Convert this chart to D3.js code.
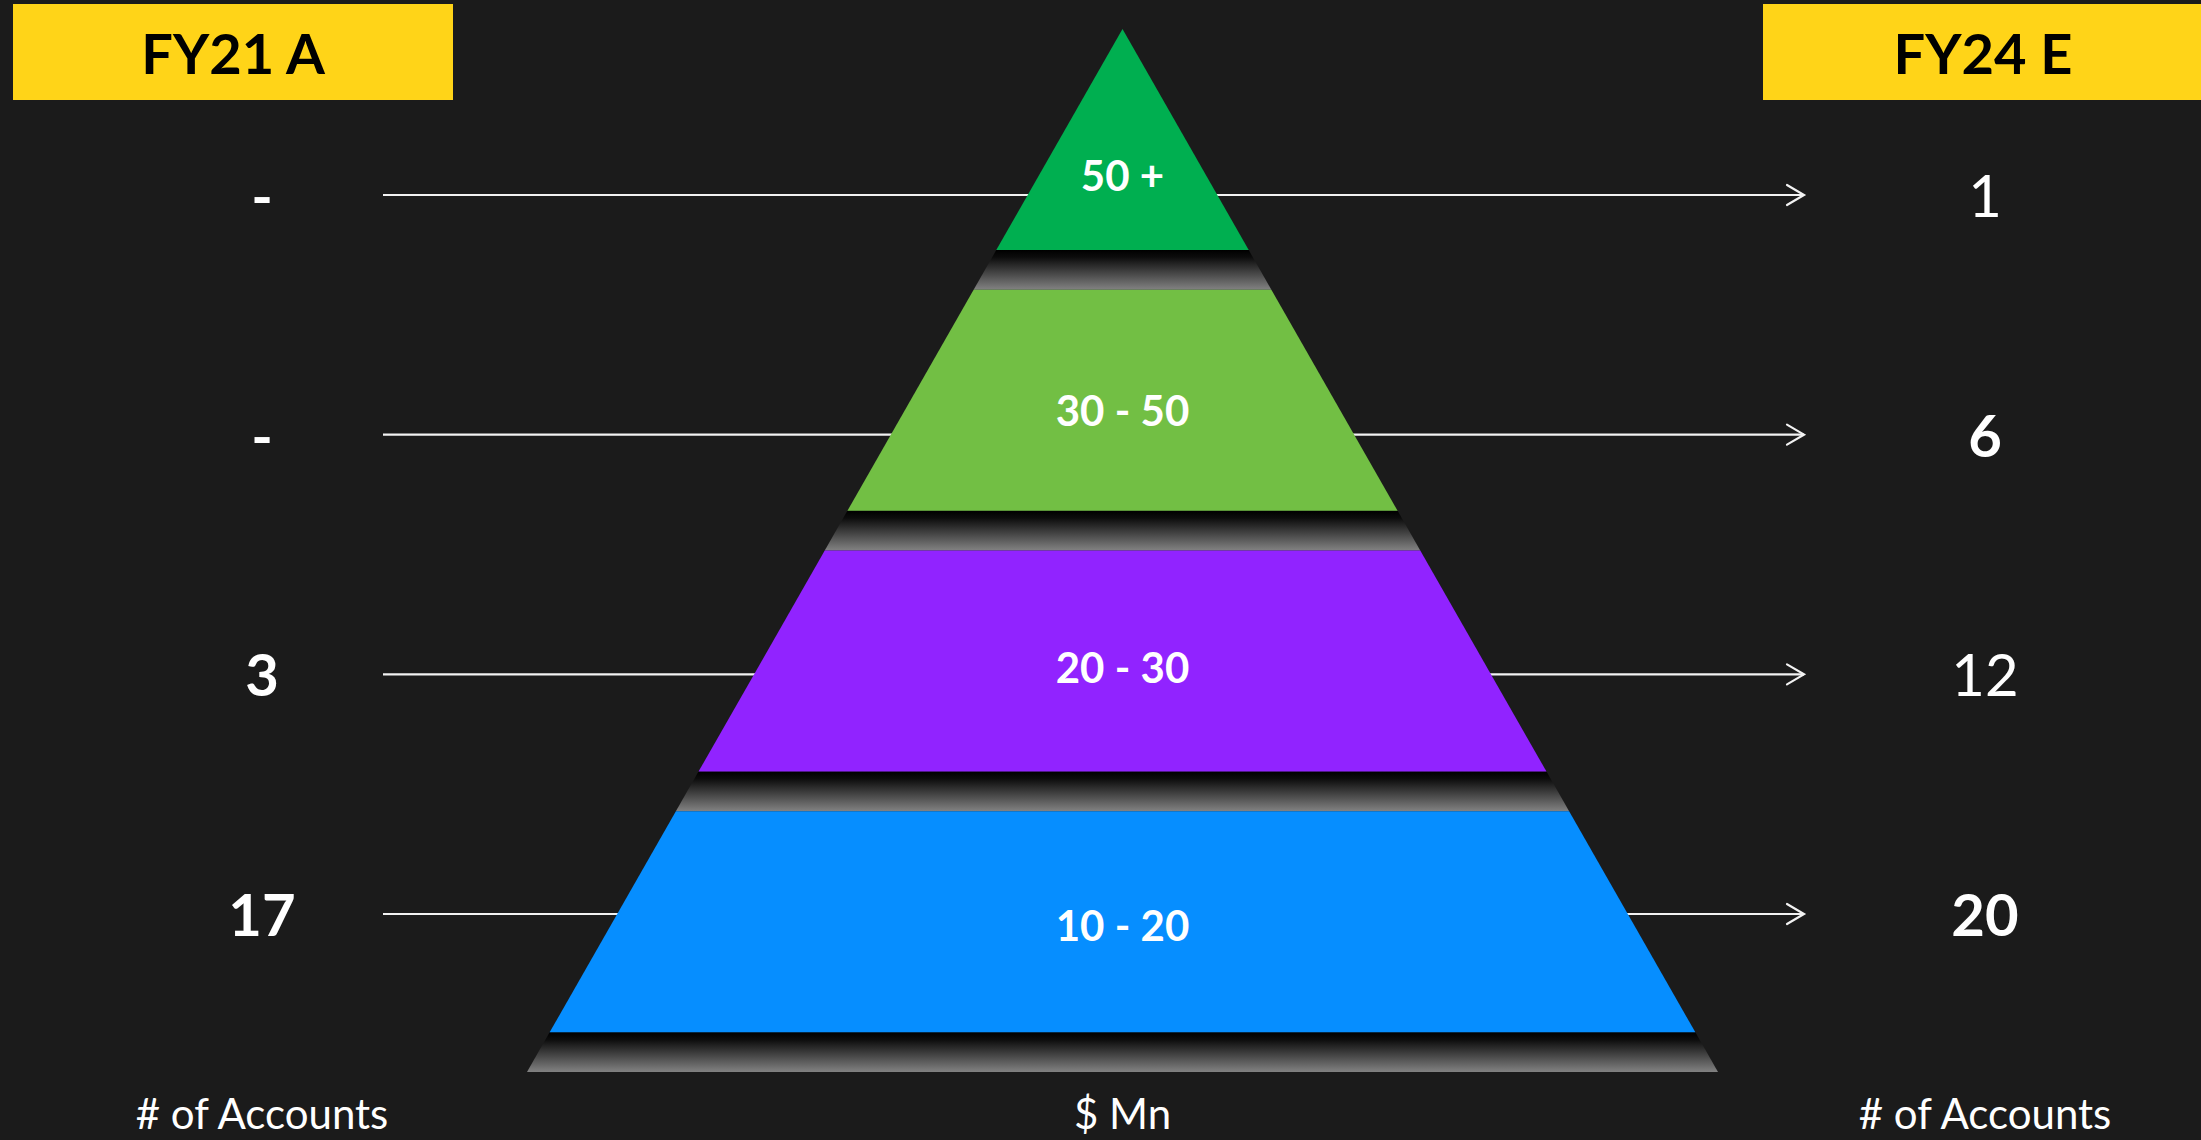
<!DOCTYPE html>
<html>
<head>
<meta charset="utf-8">
<script src="https://cdn.jsdelivr.net/npm/d3@7"></script>
<style>
  html, body { margin: 0; padding: 0; background: #1b1b1b; }
  svg { display: block; }
  text { font-family: "Lato", "Open Sans", "DejaVu Sans", sans-serif; }
</style>
</head>
<body>
<svg id="chart" width="2201" height="1140"></svg>
<script>
// ---- data ----
const tiers = ["50 +", "30 - 50", "20 - 30", "10 - 20"];   // $ Mn bands, top to bottom
const fy21Accounts = [null, null, 3, 17];                    // null shown as "-"
const fy24Accounts = [1, 6, 12, 20];
const headerLabels = ["FY21 A", "FY24 E"];
const footerLabels = ["# of Accounts", "$ Mn", "# of Accounts"];

// ---- style ----
const tierColors = ["#00AF50", "#72BF44", "#9123FF", "#068EFF"];
const fy24Weights = [400, 700, 400, 700];
const bg = "#1b1b1b", yellow = "#FFD418";

const W = 2201, H = 1140;
const svg = d3.select("#chart");
svg.append("rect").attr("width", W).attr("height", H).attr("fill", bg);

const defs = svg.append("defs");
const grad = defs.append("linearGradient").attr("id", "gapGrad")
  .attr("x1", 0).attr("y1", 0).attr("x2", 0).attr("y2", 1);
grad.append("stop").attr("offset", "0%").attr("stop-color", "#000");
grad.append("stop").attr("offset", "18%").attr("stop-color", "#0c0c0c");
grad.append("stop").attr("offset", "100%").attr("stop-color", "#828282");

// ---- scales ----
const cx = 1122.5, apexY = 29, baseY = 1072, baseHalf = 595.5;
const yBand = d3.scaleBand().domain(tiers).range([apexY, baseY]).paddingInner(0).paddingOuter(0);
const step = yBand.step();
const bandH = step * 0.848;
const halfW = d3.scaleLinear().domain([apexY, baseY]).range([0, baseHalf]);
const rowY = d3.scalePoint().domain(tiers).range([195, 914]);
const colX = d3.scalePoint().domain(["FY21", "MID", "FY24"]).range([262, 1985]);

const arrowX0 = 383, arrowX1 = 1804;

// ---- header boxes ----
const hdr = svg.append("g");
[[13, 440], [1763, 460]].forEach(([x, w]) => {
  hdr.append("rect").attr("x", x).attr("y", 4).attr("width", w).attr("height", 96).attr("fill", yellow);
});
hdr.selectAll("text.h").data(headerLabels).join("text")
  .attr("class", "h")
  .attr("x", (d, i) => i === 0 ? 233 : 1983)
  .attr("y", 74)
  .attr("text-anchor", "middle")
  .attr("font-size", 56).attr("font-weight", 700).attr("fill", "#000")
  .text(d => d);

// ---- arrows (behind pyramid) ----
const arrows = svg.append("g").attr("stroke", "#f2f2f2").attr("stroke-width", 2.2).attr("fill", "none");
tiers.forEach(t => {
  const y = rowY(t);
  arrows.append("line").attr("x1", arrowX0).attr("x2", arrowX1).attr("y1", y).attr("y2", y);
  arrows.append("path")
    .attr("d", `M${arrowX1 - 17},${y - 10} L${arrowX1},${y} L${arrowX1 - 17},${y + 10}`)
    .attr("stroke-linecap", "round").attr("stroke-linejoin", "miter");
});

// ---- pyramid ----
const pyr = svg.append("g");
function trap(y0, y1) {
  const a = halfW(y0), b = halfW(y1);
  return `M${cx - a},${y0} L${cx + a},${y0} L${cx + b},${y1} L${cx - b},${y1} Z`;
}
tiers.forEach((t, i) => {
  const y0 = yBand(t), y1 = y0 + bandH, y2 = y0 + step;
  pyr.append("path").attr("d", trap(y1, y2)).attr("fill", "url(#gapGrad)");
  pyr.append("path").attr("d", trap(y0, y1)).attr("fill", tierColors[i]);
  // label at centroid of the trapezoid
  const a = halfW(y0), b = halfW(y1);
  const cy = y0 + bandH * (a + 2 * b) / (3 * (a + b));
  pyr.append("text")
    .attr("x", cx).attr("y", cy + 15)
    .attr("text-anchor", "middle")
    .attr("font-size", 42).attr("font-weight", 700).attr("fill", "#fff")
    .text(t);
});

// ---- side values ----
const vals = svg.append("g").attr("fill", "#fff").attr("text-anchor", "middle");
tiers.forEach((t, i) => {
  const v = fy21Accounts[i];
  vals.append("text")
    .attr("x", colX("FY21")).attr("y", rowY(t) + 22)
    .attr("font-size", 58).attr("font-weight", 700)
    .text(v == null ? "-" : v);
  vals.append("text")
    .attr("x", colX("FY24")).attr("y", rowY(t) + 22)
    .attr("font-size", 58).attr("font-weight", fy24Weights[i])
    .text(fy24Accounts[i]);
});

// ---- footers ----
svg.append("g").selectAll("text").data(footerLabels).join("text")
  .attr("x", (d, i) => i === 1 ? cx : (i === 0 ? colX("FY21") : colX("FY24")))
  .attr("y", 1129)
  .attr("text-anchor", "middle")
  .attr("font-size", 42).attr("font-weight", 400).attr("fill", "#fff")
  .text(d => d);
</script>
</body>
</html>
